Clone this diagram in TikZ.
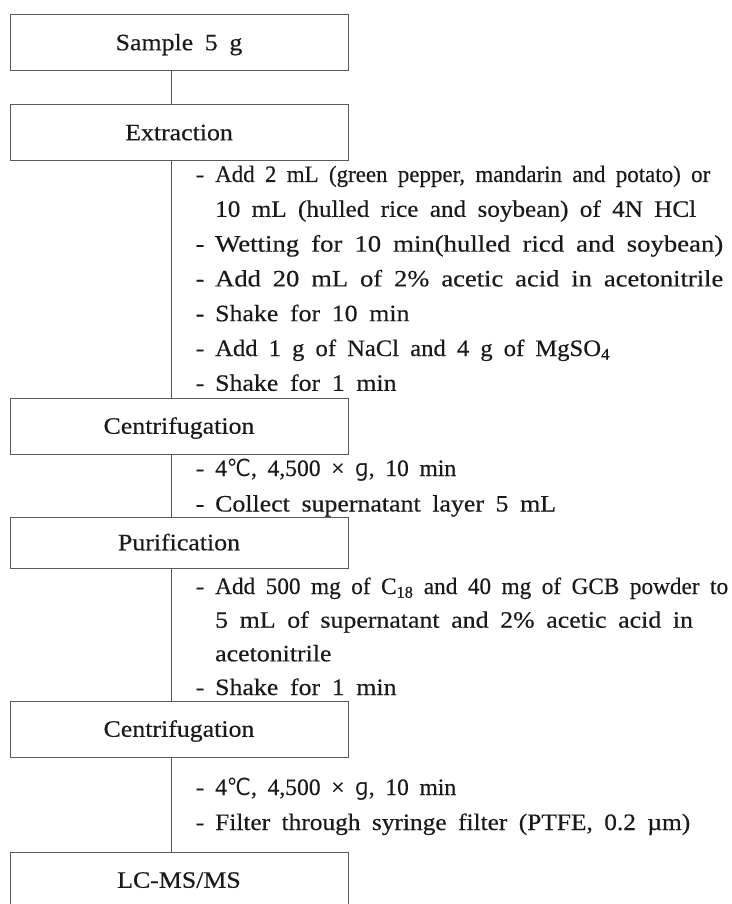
\documentclass[tikz,border=0pt]{standalone}
\usepackage{fontspec}
\setmainfont{Liberation Serif}[FakeStretch=1.1,WordSpace=1.8,FakeBold=0.4]
\newfontfamily\symf{DejaVu Sans}
\definecolor{boxgray}{HTML}{5A5A5A}
\definecolor{linegray}{HTML}{555555}
\definecolor{txtc}{HTML}{1A1A1A}
\newcommand\dsh{\makebox[0pt][r]{-\hspace{11pt}}}
\newsavebox\fitbox
\newcommand\fitw[2]{\sbox\fitbox{#2}\pgfmathsetmacro\fitx{#1/\the\wd\fitbox}\scalebox{\fitx}[1]{\usebox\fitbox}}
\begin{document}
\begin{tikzpicture}[x=1pt,y=-1pt,
  box/.style={draw=boxgray, line width=1pt, minimum width=338pt, minimum height=56pt,
    inner sep=0pt, text height=15.5pt, text depth=0pt,
    font=\fontsize{23.5}{27}\selectfont, text=txtc},
  txt/.style={anchor=base west, inner sep=0pt, font=\fontsize{23.5}{27}\selectfont, text=txtc},
  conn/.style={draw=linegray, line width=1pt}]
\useasboundingbox (0,0) rectangle (731,904);
\fill[white] (0,0) rectangle (731,904);
\clip (0,0) rectangle (731,904);
\coordinate (sp) at (171,0);
\node[box] (b1) at (179,42.5) {Sample 5 g};
\node[box] (b2) at (179,132.5) {Extraction};
\node[txt] (e1) at (215,182) {\dsh\fitw{495}{Add 2 mL (green pepper, mandarin and potato) or}};
\node[txt] (e2) at (215,216.8) {\fitw{481}{10 mL (hulled rice and soybean) of 4N HCl}};
\node[txt] (e3) at (215,251.6) {\dsh\fitw{508}{Wetting for 10 min(hulled ricd and soybean)}};
\node[txt] (e4) at (215,286.4) {\dsh\fitw{508}{Add 20 mL of 2\% acetic acid in acetonitrile}};
\node[txt] (e5) at (215,321.2) {\dsh Shake for 10 min};
\node[txt] (e6) at (215,356) {\dsh\fitw{395}{Add 1 g of NaCl and 4 g of MgSO\textsubscript{4}}};
\node[txt] (e7) at (215,390.8) {\dsh Shake for 1 min};
\node[box] (b3) at (179,426) {Centrifugation};
\node[txt] (c1) at (215,476) {\dsh\fitw{241}{4{\symf ℃}, 4,500 × {\symf ɡ}, 10 min}};
\node[txt] (c2) at (215,511.5) {\dsh Collect supernatant layer 5 mL};
\node[box, minimum height=51pt] (b4) at (179,542.5) {Purification};
\node[txt] (p1) at (215,594) {\dsh\fitw{513}{Add 500 mg of C\textsubscript{18} and 40 mg of GCB powder to}};
\node[txt] (p2) at (215,627.7) {5 mL of supernatant and 2\% acetic acid in};
\node[txt] (p3) at (215,661.3) {acetonitrile};
\node[txt] (p4) at (215,695) {\dsh Shake for 1 min};
\node[box] (b5) at (179,729) {Centrifugation};
\node[txt] (f1) at (215,795) {\dsh\fitw{241}{4{\symf ℃}, 4,500 × {\symf ɡ}, 10 min}};
\node[txt] (f2) at (215,830) {\dsh\fitw{475}{Filter through syringe filter (PTFE, 0.2 µm)}};
\node[box] (b6) at (179,880) {LC-MS/MS};
\draw[conn] (b1.south -| sp) -- (b2.north -| sp);
\draw[conn] (b2.south -| sp) -- (b3.north -| sp);
\draw[conn] (b3.south -| sp) -- (b4.north -| sp);
\draw[conn] (b4.south -| sp) -- (b5.north -| sp);
\draw[conn] (b5.south -| sp) -- (b6.north -| sp);
\end{tikzpicture}
\end{document}
